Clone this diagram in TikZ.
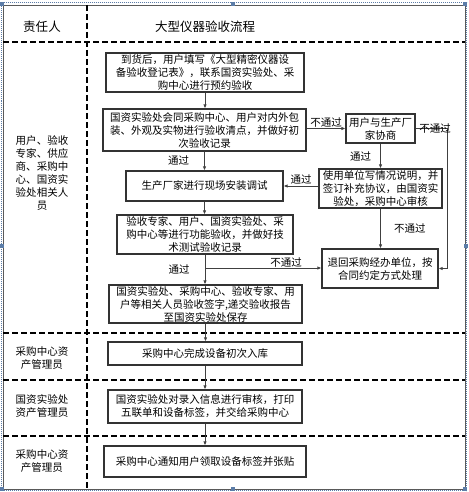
\documentclass[tikz,border=0pt]{standalone}
\usepackage{fontspec}
\setmainfont{Noto Sans CJK SC}
\usepackage{xcolor}
\usepackage{tikz}
\usetikzlibrary{arrows.meta}
\definecolor{framegray}{rgb}{0.35,0.35,0.35}
\definecolor{handleblue}{rgb}{0.36,0.49,0.66}

\begin{document}
\begin{tikzpicture}[x=1pt, y=-1pt,
  proc/.style={draw=black!80, line width=1.2pt, align=center, inner sep=0pt,
               font=\fontsize{10.5}{13}\selectfont},
  lbl/.style={font=\fontsize{10.5}{13}\selectfont, inner sep=1pt},
  who/.style={font=\fontsize{10.5}{13}\selectfont, align=center},
  head/.style={font=\fontsize{12.5}{14}\selectfont},
  lane/.style={line width=1.1pt, dash pattern=on 6pt off 3pt},
  link/.style={draw=black!75, line width=1pt, -{Latex[length=4pt, width=3.5pt]}},
  handle/.style={fill=handleblue, minimum size=4.5pt, inner sep=0pt},
]
\useasboundingbox (0,0) rectangle (468,492);

%% Frame and lanes
\draw[handleblue, densely dotted, line width=1pt] (1.5,2.5) rectangle (466.5,490.5);
\draw[framegray, line width=0.8pt] (3,5) rectangle (465,489);
\foreach \x/\y in {2/4, 233/4, 465/4, 2/246, 466/246, 2/489, 233/489, 465/489}{
  \node[handle] at (\x,\y) {};
}
\draw[lane] (87,5) -- (87,489);
\foreach \y in {42, 333, 380, 436}{
  \draw[lane] (3,\y) -- (465,\y);
}

%% Headers
\node[head] (hwho) at (42,27) {责任人};
\node[head] (hflow) at (205,27) {大型仪器验收流程};

%% Who is responsible
\node[who] (w1) at (42,172.5) {用户、验收\\专家、供应\\商、采购中\\心、国资实\\验处相关人\\员};
\node[who] (w2) at (42,358) {采购中心资\\产管理员};
\node[who] (w3) at (42,406) {国资实验处\\资产管理员};
\node[who] (w4) at (42,461) {采购中心资\\产管理员};

%% Process boxes
\node[proc, minimum width=198, minimum height=39] (arrive) at (205,72.5)
  {到货后，用户填写《大型精密仪器设\\备验收登记表》，联系国资实验处、采\\购中心进行预约验收};
\node[proc, minimum width=203, minimum height=42] (count) at (204.5,130)
  {国资实验处会同采购中心、用户对内外包\\装、外观及实物进行验收清点，并做好初\\次验收记录};
\node[proc, minimum width=69, minimum height=29] (talk) at (380.5,128.5)
  {用户与生产厂\\家协商};
\node[proc, minimum width=123, minimum height=39] (note) at (380.5,188.5)
  {使用单位写情况说明，并\\签订补充协议，由国资实\\验处，采购中心审核};
\node[proc, minimum width=157, minimum height=30] (install) at (204.5,186)
  {生产厂家进行现场安装调试};
\node[proc, minimum width=176, minimum height=39] (func) at (205,234.5)
  {验收专家、用户、国资实验处、采\\购中心等进行功能验收，并做好技\\术测试验收记录};
\node[proc, minimum width=116, minimum height=39] (back) at (380,268.5)
  {退回采购经办单位，按\\合同约定方式处理};
\node[proc, minimum width=193, minimum height=38] (sign) at (205.5,304)
  {国资实验处、采购中心、验收专家、用\\户等相关人员验收签字,递交验收报告\\至国资实验处保存};
\node[proc, minimum width=194, minimum height=23] (store) at (205,353.5)
  {采购中心完成设备初次入库};
\node[proc, minimum width=194, minimum height=33] (check) at (205,406.5)
  {国资实验处对录入信息进行审核，打印\\五联单和设备标签，并交给采购中心};
\node[proc, minimum width=202, minimum height=31] (tag) at (205,461.5)
  {采购中心通知用户领取设备标签并张贴};

%% Connectors
\coordinate (rside) at (447,128.5);
\coordinate (split) at (205,268);
\draw[link] (arrive) -- (arrive.south |- count.north);
\draw[link] (count) -- (count.south |- install.north)
  node[lbl, pos=0.45, left=14pt] {通过};
\draw[link] (count.east |- talk.west) -- (talk.west)
  node[lbl, midway, above=0pt] {不通过};
\draw[link] (talk.east) -- (rside) |- (back.east)
  node[lbl, pos=0.02, above=-1pt, xshift=-12pt] {不通过};
\draw[link] (talk) -- (talk.south |- note.north)
  node[lbl, midway, left=8pt] {通过};
\draw[link] (note.west |- install.east) -- (install.east)
  node[lbl, midway, above=0pt] {通过};
\draw[link] (note) -- (note.south |- back.north)
  node[lbl, midway, right=12pt] {不通过};
\draw[link] (install) -- (install.south |- func.north);
\draw[link] (func) -- (func.south |- sign.north)
  node[lbl, pos=0.5, left=14pt] {通过};
\draw[link] (split) -- (split -| back.west)
  node[lbl, midway, above=-1pt, xshift=23pt] {不通过};
\draw[link] (sign) -- (sign.south |- store.north);
\draw[link] (store) -- (store.south |- check.north);
\draw[link] (check) -- (check.south |- tag.north);
\end{tikzpicture}
\end{document}
